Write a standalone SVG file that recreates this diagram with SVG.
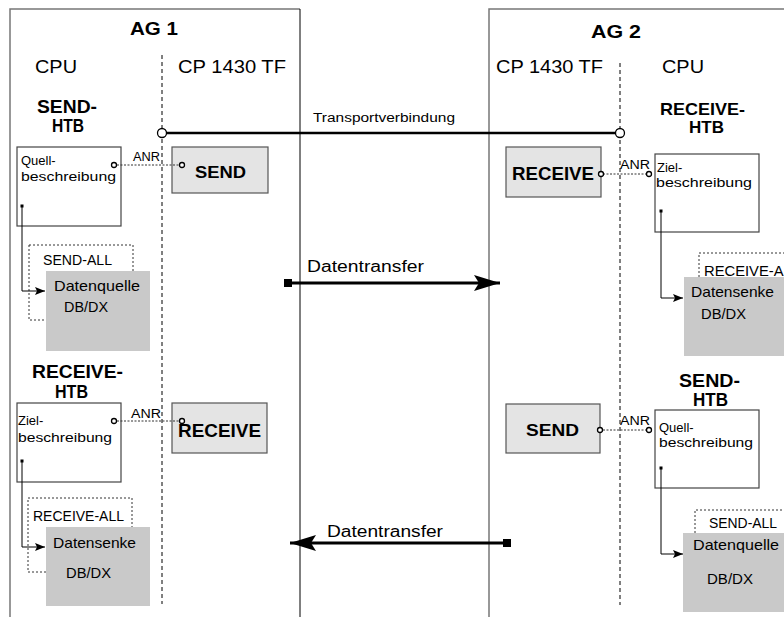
<svg xmlns="http://www.w3.org/2000/svg" width="784" height="617" viewBox="0 0 784 617">
<defs>
<style>
text{font-family:"Liberation Sans",Arial,sans-serif;fill:#000}
.h{font-size:18px}
.b{font-weight:bold}
.s{font-size:13px}
.m{font-size:15px}
.frame{fill:none;stroke:#777;stroke-width:1.5}
.sep{stroke:#000;stroke-width:1;stroke-dasharray:4,3;fill:none}
.htb{fill:#fff;stroke:#444;stroke-width:1.2}
.job{fill:#e4e4e4;stroke:#555;stroke-width:1.2}
.data{fill:#c9c9c9;stroke:none}
.all{fill:none;stroke:#333;stroke-width:1;stroke-dasharray:2,2}
.anr{stroke:#333;stroke-width:1;stroke-dasharray:2,1.5;fill:none}
.pt{fill:#fff;stroke:#000;stroke-width:1.3}
.thin{fill:none;stroke:#000;stroke-width:1}
.thick{fill:none;stroke:#000;stroke-width:3}
</style>
<marker id="sa" viewBox="0 0 10 8" refX="10" refY="4" markerWidth="10" markerHeight="8" markerUnits="userSpaceOnUse" orient="auto"><path d="M0,0 L10,4 L0,8 L2,4 Z" fill="#000"/></marker>
<marker id="ba" viewBox="0 0 26 16" refX="26" refY="8" markerWidth="26" markerHeight="16" markerUnits="userSpaceOnUse" orient="auto"><path d="M0,0 L26,8 L0,16 L5,8 Z" fill="#000"/></marker>
</defs>
<rect width="784" height="617" fill="#fff"/>

<g id="ag1">
<path class="frame" d="M10,617 V9 H300"/>
<path d="M300,9 V617" stroke="#000" stroke-width="1" fill="none"/>
<text class="b" x="130" y="35" font-size="18" textLength="48" lengthAdjust="spacingAndGlyphs">AG 1</text>
<text class="h" x="35" y="73" textLength="42" lengthAdjust="spacingAndGlyphs">CPU</text>
<text class="h" x="178" y="73" textLength="108" lengthAdjust="spacingAndGlyphs">CP 1430 TF</text>
<path class="sep" d="M162,55 V604"/>
</g>

<g id="ag2">
<path class="frame" d="M489,617 V9 H784"/>
<text class="b" x="591" y="38" font-size="18" textLength="50" lengthAdjust="spacingAndGlyphs">AG 2</text>
<text class="h" x="496" y="73" textLength="107" lengthAdjust="spacingAndGlyphs">CP 1430 TF</text>
<text class="h" x="662" y="73" textLength="42" lengthAdjust="spacingAndGlyphs">CPU</text>
<path class="sep" d="M620,63 V605"/>
</g>

<g id="send-htb-1">
<text class="b" x="37" y="113" font-size="18" textLength="60" lengthAdjust="spacingAndGlyphs">SEND-</text>
<text class="b" x="52" y="132" font-size="18" textLength="32" lengthAdjust="spacingAndGlyphs">HTB</text>
<rect class="htb" x="17" y="147" width="104" height="79"/>
<text class="s" x="21" y="165">Quell-</text>
<text class="s" x="21" y="181" textLength="95" lengthAdjust="spacingAndGlyphs">beschreibung</text>
</g>

<g id="send-1">
<rect class="job" x="172" y="147" width="96" height="46"/>
<text class="b" x="195" y="178" font-size="17" textLength="51" lengthAdjust="spacingAndGlyphs">SEND</text>
</g>

<g id="send-all-1">
<rect class="all" x="29" y="245" width="104" height="75"/>
<text x="43" y="265" font-size="14" textLength="69" lengthAdjust="spacingAndGlyphs">SEND-ALL</text>
</g>

<g id="datenquelle-1">
<rect class="data" x="46" y="271" width="104" height="80"/>
<text class="m" x="54" y="291" textLength="86" lengthAdjust="spacingAndGlyphs">Datenquelle</text>
<text x="64" y="312" font-size="14" textLength="44" lengthAdjust="spacingAndGlyphs">DB/DX</text>
</g>

<g id="receive-htb-1">
<text class="b" x="32" y="378" font-size="18" textLength="91" lengthAdjust="spacingAndGlyphs">RECEIVE-</text>
<text class="b" x="55" y="398" font-size="18" textLength="33" lengthAdjust="spacingAndGlyphs">HTB</text>
<rect class="htb" x="17" y="403" width="104" height="79"/>
<text class="s" x="18" y="425">Ziel-</text>
<text class="s" x="18" y="442" textLength="94" lengthAdjust="spacingAndGlyphs">beschreibung</text>
</g>

<g id="receive-1">
<rect class="job" x="172" y="403" width="95" height="50"/>
<text class="b" x="178" y="437" font-size="18" textLength="83" lengthAdjust="spacingAndGlyphs">RECEIVE</text>
</g>

<g id="receive-all-1">
<rect class="all" x="28" y="498" width="104" height="74"/>
<text x="33" y="521" font-size="14" textLength="91" lengthAdjust="spacingAndGlyphs">RECEIVE-ALL</text>
</g>

<g id="datensenke-1">
<rect class="data" x="46" y="527" width="104" height="79"/>
<text class="m" x="53" y="548" textLength="83" lengthAdjust="spacingAndGlyphs">Datensenke</text>
<text x="66" y="578" font-size="14" textLength="45" lengthAdjust="spacingAndGlyphs">DB/DX</text>
</g>

<g id="receive-2">
<rect class="job" x="506" y="147" width="95" height="50"/>
<text class="b" x="512" y="180" font-size="18" textLength="82" lengthAdjust="spacingAndGlyphs">RECEIVE</text>
</g>

<g id="receive-htb-2">
<text class="b" x="660" y="115" font-size="17" textLength="85" lengthAdjust="spacingAndGlyphs">RECEIVE-</text>
<text class="b" x="689" y="133" font-size="17" textLength="35" lengthAdjust="spacingAndGlyphs">HTB</text>
<rect class="htb" x="655" y="154" width="104" height="78"/>
<text class="s" x="657" y="172">Ziel-</text>
<text class="s" x="656" y="187" textLength="96" lengthAdjust="spacingAndGlyphs">beschreibung</text>
</g>

<g id="receive-all-2">
<path class="all" d="M699,277 V253 H784"/>
<text x="704" y="276" font-size="14" textLength="96" lengthAdjust="spacingAndGlyphs">RECEIVE-ALL</text>
</g>

<g id="datensenke-2">
<rect class="data" x="684" y="277" width="100" height="79"/>
<text class="m" x="691" y="297" textLength="83" lengthAdjust="spacingAndGlyphs">Datensenke</text>
<text x="701" y="319" font-size="14" textLength="45" lengthAdjust="spacingAndGlyphs">DB/DX</text>
</g>

<g id="send-2">
<rect class="job" x="506" y="404" width="94" height="49"/>
<text class="b" x="526" y="436" font-size="17" textLength="53" lengthAdjust="spacingAndGlyphs">SEND</text>
</g>

<g id="send-htb-2">
<text class="b" x="679" y="387" font-size="18" textLength="61" lengthAdjust="spacingAndGlyphs">SEND-</text>
<text class="b" x="693" y="406" font-size="18" textLength="35" lengthAdjust="spacingAndGlyphs">HTB</text>
<rect class="htb" x="655" y="410" width="104" height="78"/>
<text class="s" x="659" y="432">Quell-</text>
<text class="s" x="659" y="447" textLength="94" lengthAdjust="spacingAndGlyphs">beschreibung</text>
</g>

<g id="send-all-2">
<path class="all" d="M695,533 V510 H784"/>
<text x="709" y="528" font-size="14" textLength="68" lengthAdjust="spacingAndGlyphs">SEND-ALL</text>
</g>

<g id="datenquelle-2">
<rect class="data" x="683" y="533" width="101" height="79"/>
<text class="m" x="693" y="550" textLength="86" lengthAdjust="spacingAndGlyphs">Datenquelle</text>
<text x="707" y="584" font-size="14" textLength="46" lengthAdjust="spacingAndGlyphs">DB/DX</text>
</g>

<g id="connectors">
<line x1="166" y1="133" x2="616" y2="133" stroke="#000" stroke-width="2.5"/>
<circle class="pt" cx="162" cy="133" r="4.5" stroke-width="2"/>
<circle class="pt" cx="620" cy="133" r="4.5" stroke-width="2"/>
<text x="313" y="122" font-size="12" textLength="142" lengthAdjust="spacingAndGlyphs">Transportverbindung</text>

<path class="anr" d="M117,165 H179"/>
<circle class="pt" cx="114" cy="165" r="2.5"/>
<circle class="pt" cx="182" cy="165" r="2.5"/>
<text x="133" y="161" font-size="12" textLength="27" lengthAdjust="spacingAndGlyphs">ANR</text>

<path class="anr" d="M117,421 H179"/>
<circle class="pt" cx="114" cy="421" r="2.5"/>
<circle class="pt" cx="182" cy="421" r="2.5"/>
<text x="131" y="418" font-size="12" textLength="30" lengthAdjust="spacingAndGlyphs">ANR</text>

<path class="anr" d="M603,174 H647"/>
<circle class="pt" cx="601" cy="174" r="2.5"/>
<circle class="pt" cx="649" cy="174" r="2.5"/>
<text x="620" y="169" font-size="12" textLength="30" lengthAdjust="spacingAndGlyphs">ANR</text>

<path class="anr" d="M603,430 H647"/>
<circle class="pt" cx="600" cy="430" r="2.5"/>
<circle class="pt" cx="649" cy="430" r="2.5"/>
<text x="620" y="425" font-size="12" textLength="30" lengthAdjust="spacingAndGlyphs">ANR</text>

<rect x="20.5" y="204.5" width="3" height="3" fill="#000"/>
<path class="thin" d="M22,206 V291 H45" marker-end="url(#sa)"/>
<rect x="20.5" y="459.5" width="3" height="3" fill="#000"/>
<path class="thin" d="M22,461 V547 H45" marker-end="url(#sa)"/>
<rect x="659.5" y="209.5" width="3" height="3" fill="#000"/>
<path class="thin" d="M661,211 V298 H683" marker-end="url(#sa)"/>
<rect x="659.5" y="466.5" width="3" height="3" fill="#000"/>
<path class="thin" d="M661,468 V554 H683" marker-end="url(#sa)"/>

<rect x="284" y="279" width="8" height="8" fill="#000"/>
<path class="thick" d="M290,283 H500" marker-end="url(#ba)"/>
<text x="307" y="272" font-size="16" textLength="117" lengthAdjust="spacingAndGlyphs">Datentransfer</text>

<rect x="503" y="539" width="8" height="8" fill="#000"/>
<path class="thick" d="M507,543 H290" marker-end="url(#ba)"/>
<text x="327" y="537" font-size="16" textLength="116" lengthAdjust="spacingAndGlyphs">Datentransfer</text>
</g>
</svg>
